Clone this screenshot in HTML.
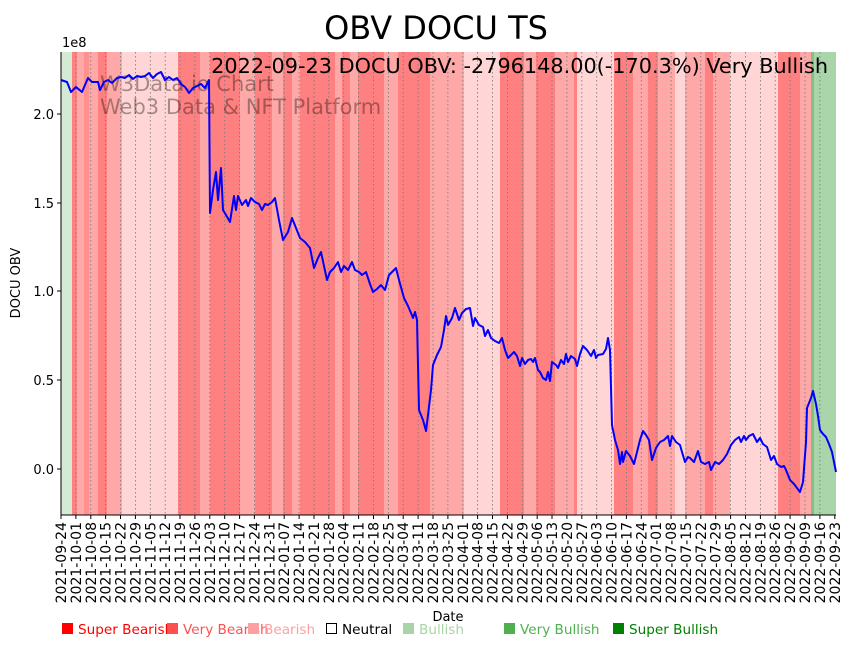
<!DOCTYPE html>
<html><head><meta charset="utf-8"><style>
body{margin:0;background:#fff}
svg{display:block;font-family:"DejaVu Sans","Liberation Sans",sans-serif}
</style></head><body>
<svg width="853" height="646" viewBox="0 0 853 646">
<rect width="853" height="646" fill="#fff"/>
<g>
<rect x="61" y="52" width="11" height="463" fill="#d5ead5"/>
<rect x="72" y="52" width="5" height="463" fill="#ff8080"/>
<rect x="77" y="52" width="21" height="463" fill="#ffa8a8"/>
<rect x="84" y="52" width="5" height="463" fill="#ff9090"/>
<rect x="98" y="52" width="9" height="463" fill="#ff8080"/>
<rect x="107" y="52" width="15" height="463" fill="#ffa8a8"/>
<rect x="122" y="52" width="56" height="463" fill="#ffd5d5"/>
<rect x="178" y="52" width="22" height="463" fill="#ff8080"/>
<rect x="200" y="52" width="10" height="463" fill="#ffa8a8"/>
<rect x="210" y="52" width="30" height="463" fill="#ff8080"/>
<rect x="240" y="52" width="15" height="463" fill="#ffa8a8"/>
<rect x="255" y="52" width="17" height="463" fill="#ff8080"/>
<rect x="272" y="52" width="11" height="463" fill="#ffa8a8"/>
<rect x="283" y="52" width="9" height="463" fill="#ff8080"/>
<rect x="292" y="52" width="8" height="463" fill="#ffa8a8"/>
<rect x="300" y="52" width="35" height="463" fill="#ff8080"/>
<rect x="335" y="52" width="7" height="463" fill="#ffa8a8"/>
<rect x="342" y="52" width="8" height="463" fill="#ff8080"/>
<rect x="350" y="52" width="8" height="463" fill="#ffa8a8"/>
<rect x="358" y="52" width="26" height="463" fill="#ff8080"/>
<rect x="384" y="52" width="14" height="463" fill="#ffa8a8"/>
<rect x="398" y="52" width="32" height="463" fill="#ff8080"/>
<rect x="430" y="52" width="34" height="463" fill="#ffa8a8"/>
<rect x="464" y="52" width="36" height="463" fill="#ffd5d5"/>
<rect x="500" y="52" width="24" height="463" fill="#ff8080"/>
<rect x="524" y="52" width="12" height="463" fill="#ffa8a8"/>
<rect x="536" y="52" width="19" height="463" fill="#ff8080"/>
<rect x="555" y="52" width="21" height="463" fill="#ffa8a8"/>
<rect x="574" y="52" width="3" height="463" fill="#ff8080"/>
<rect x="577" y="52" width="37" height="463" fill="#ffd5d5"/>
<rect x="614" y="52" width="19" height="463" fill="#ff8080"/>
<rect x="633" y="52" width="15" height="463" fill="#ffa8a8"/>
<rect x="648" y="52" width="10" height="463" fill="#ff8080"/>
<rect x="658" y="52" width="17" height="463" fill="#ffa8a8"/>
<rect x="675" y="52" width="10" height="463" fill="#ffd5d5"/>
<rect x="685" y="52" width="20" height="463" fill="#ffa8a8"/>
<rect x="705" y="52" width="8" height="463" fill="#ff8080"/>
<rect x="713" y="52" width="17" height="463" fill="#ffa8a8"/>
<rect x="730" y="52" width="48" height="463" fill="#ffd5d5"/>
<rect x="778" y="52" width="22" height="463" fill="#ff8080"/>
<rect x="800" y="52" width="11" height="463" fill="#ffa8a8"/>
<rect x="811" y="52" width="3" height="463" fill="#80c080"/>
<rect x="814" y="52" width="22" height="463" fill="#aad5aa"/>
</g>
<g stroke="#777" stroke-width="0.8" stroke-dasharray="1.5,2.5">
<path d="M75.9 52V515M90.8 52V515M105.6 52V515M120.5 52V515M135.4 52V515M150.3 52V515M165.2 52V515M180 52V515M194.9 52V515M209.8 52V515M224.7 52V515M239.6 52V515M254.4 52V515M269.3 52V515M284.2 52V515M299.1 52V515M314 52V515M328.8 52V515M343.7 52V515M358.6 52V515M373.5 52V515M388.4 52V515M403.2 52V515M418.1 52V515M433 52V515M447.9 52V515M462.8 52V515M477.6 52V515M492.5 52V515M507.4 52V515M522.3 52V515M537.2 52V515M552 52V515M566.9 52V515M581.8 52V515M596.7 52V515M611.6 52V515M626.4 52V515M641.3 52V515M656.2 52V515M671.1 52V515M686 52V515M700.8 52V515M715.7 52V515M730.6 52V515M745.5 52V515M760.4 52V515M775.2 52V515M790.1 52V515M805 52V515M819.9 52V515"/>
</g>
<g fill="#000" fill-opacity="0.35" font-size="21">
<text x="100" y="91">W3Data.io Chart</text>
<text x="100" y="114">Web3 Data &amp; NFT Platform</text>
</g>
<polyline fill="none" stroke="#0000ff" stroke-width="2" stroke-linejoin="round" points="61,80 67,82 71,92 76,87 82,92 88,78 92,82 98,82 100,90 104,82 108,80 112,83 117,78 121,77 125,78 129,75 133,79 137,76 141,77 145,76 149,73 153,78 157,74 161,72 165,80 169,77 173,80 177,78 181,84 185,87 189,93 193,88 197,86 201,84 205,88 207,84 209,80 210,213 213,190 216,172 218,200 221,168 223,210 226,215 230,222 234,196 236,210 238,196 242,205 246,200 248,206 251,198 255,202 259,204 262,210 265,204 268,205 272,202 275,198 279,220 283,240 288,232 292,218 296,228 300,238 305,242 310,248 314,268 318,258 321,252 324,266 327,280 330,272 334,268 338,262 341,272 344,266 348,270 352,262 355,270 359,272 362,275 366,272 370,284 373,292 377,289 381,285 385,290 389,275 396,268 399,280 404,298 408,306 411,313 413,318 415,312 417,320 419,410 423,420 426,431 428,415 431,390 433,365 437,355 441,347 444,330 446,316 448,325 452,318 455,308 459,320 462,313 466,309 470,308 473,326 475,318 479,325 483,327 485,336 488,330 491,338 495,341 499,343 502,338 505,350 508,358 514,352 517,356 520,366 522,358 525,364 528,360 531,359 533,362 535,358 538,370 540,372 543,378 546,380 548,372 550,381 552,362 556,365 558,368 561,360 564,364 566,354 568,362 571,356 575,359 577,366 580,354 583,346 587,350 591,356 594,350 596,358 598,355 603,354 606,349 608,338 610,350 612,425 615,440 618,450 620,464 622,452 623,462 626,451 630,456 634,464 640,440 643,431 646,435 649,440 652,460 656,448 660,442 664,440 668,436 670,446 672,436 676,442 680,445 682,452 685,462 688,457 690,458 694,462 698,451 701,462 705,464 709,462 711,470 715,462 719,464 723,460 727,454 731,445 735,440 739,437 741,442 744,436 746,440 749,436 753,434 757,442 760,438 763,444 767,447 771,460 774,456 777,464 781,467 784,466 786,470 790,480 794,484 800,492 803,482 806,442 807,408 811,398 813,391 816,404 818,416 820,430 823,434 826,437 829,444 832,452 836,472"/>
<path d="M61 52V515H836" fill="none" stroke="#000" stroke-width="1"/>
<g stroke="#000" stroke-width="1"><path d="M57 469H61M57 380H61M57 291H61M57 203H61M57 114H61"/>
<path d="M61 515v4M75.9 515v4M90.8 515v4M105.6 515v4M120.5 515v4M135.4 515v4M150.3 515v4M165.2 515v4M180 515v4M194.9 515v4M209.8 515v4M224.7 515v4M239.6 515v4M254.4 515v4M269.3 515v4M284.2 515v4M299.1 515v4M314 515v4M328.8 515v4M343.7 515v4M358.6 515v4M373.5 515v4M388.4 515v4M403.2 515v4M418.1 515v4M433 515v4M447.9 515v4M462.8 515v4M477.6 515v4M492.5 515v4M507.4 515v4M522.3 515v4M537.2 515v4M552 515v4M566.9 515v4M581.8 515v4M596.7 515v4M611.6 515v4M626.4 515v4M641.3 515v4M656.2 515v4M671.1 515v4M686 515v4M700.8 515v4M715.7 515v4M730.6 515v4M745.5 515v4M760.4 515v4M775.2 515v4M790.1 515v4M805 515v4M819.9 515v4M834.8 515v4"/></g>
<g font-size="13" text-anchor="end">
<text x="54" y="474">0.0</text><text x="54" y="385">0.5</text><text x="54" y="296">1.0</text><text x="54" y="208">1.5</text><text x="54" y="119">2.0</text>
</g>
<text x="62" y="47" font-size="13">1e8</text>
<text transform="translate(20,283) rotate(-90)" font-size="13" text-anchor="middle">DOCU OBV</text>
<text x="448" y="621" font-size="13" text-anchor="middle">Date</text>
<text x="436" y="39" font-size="32" text-anchor="middle">OBV DOCU TS</text>
<text x="828" y="73" font-size="20.8" text-anchor="end">2022-09-23 DOCU OBV: -2796148.00(-170.3%) Very Bullish</text>
<g font-size="14" text-anchor="end">
<text transform="translate(66,522) rotate(-90)">2021-09-24</text>
<text transform="translate(80.9,522) rotate(-90)">2021-10-01</text>
<text transform="translate(95.8,522) rotate(-90)">2021-10-08</text>
<text transform="translate(110.6,522) rotate(-90)">2021-10-15</text>
<text transform="translate(125.5,522) rotate(-90)">2021-10-22</text>
<text transform="translate(140.4,522) rotate(-90)">2021-10-29</text>
<text transform="translate(155.3,522) rotate(-90)">2021-11-05</text>
<text transform="translate(170.2,522) rotate(-90)">2021-11-12</text>
<text transform="translate(185,522) rotate(-90)">2021-11-19</text>
<text transform="translate(199.9,522) rotate(-90)">2021-11-26</text>
<text transform="translate(214.8,522) rotate(-90)">2021-12-03</text>
<text transform="translate(229.7,522) rotate(-90)">2021-12-10</text>
<text transform="translate(244.6,522) rotate(-90)">2021-12-17</text>
<text transform="translate(259.4,522) rotate(-90)">2021-12-24</text>
<text transform="translate(274.3,522) rotate(-90)">2021-12-31</text>
<text transform="translate(289.2,522) rotate(-90)">2022-01-07</text>
<text transform="translate(304.1,522) rotate(-90)">2022-01-14</text>
<text transform="translate(319,522) rotate(-90)">2022-01-21</text>
<text transform="translate(333.8,522) rotate(-90)">2022-01-28</text>
<text transform="translate(348.7,522) rotate(-90)">2022-02-04</text>
<text transform="translate(363.6,522) rotate(-90)">2022-02-11</text>
<text transform="translate(378.5,522) rotate(-90)">2022-02-18</text>
<text transform="translate(393.4,522) rotate(-90)">2022-02-25</text>
<text transform="translate(408.2,522) rotate(-90)">2022-03-04</text>
<text transform="translate(423.1,522) rotate(-90)">2022-03-11</text>
<text transform="translate(438,522) rotate(-90)">2022-03-18</text>
<text transform="translate(452.9,522) rotate(-90)">2022-03-25</text>
<text transform="translate(467.8,522) rotate(-90)">2022-04-01</text>
<text transform="translate(482.6,522) rotate(-90)">2022-04-08</text>
<text transform="translate(497.5,522) rotate(-90)">2022-04-15</text>
<text transform="translate(512.4,522) rotate(-90)">2022-04-22</text>
<text transform="translate(527.3,522) rotate(-90)">2022-04-29</text>
<text transform="translate(542.2,522) rotate(-90)">2022-05-06</text>
<text transform="translate(557,522) rotate(-90)">2022-05-13</text>
<text transform="translate(571.9,522) rotate(-90)">2022-05-20</text>
<text transform="translate(586.8,522) rotate(-90)">2022-05-27</text>
<text transform="translate(601.7,522) rotate(-90)">2022-06-03</text>
<text transform="translate(616.6,522) rotate(-90)">2022-06-10</text>
<text transform="translate(631.4,522) rotate(-90)">2022-06-17</text>
<text transform="translate(646.3,522) rotate(-90)">2022-06-24</text>
<text transform="translate(661.2,522) rotate(-90)">2022-07-01</text>
<text transform="translate(676.1,522) rotate(-90)">2022-07-08</text>
<text transform="translate(691,522) rotate(-90)">2022-07-15</text>
<text transform="translate(705.8,522) rotate(-90)">2022-07-22</text>
<text transform="translate(720.7,522) rotate(-90)">2022-07-29</text>
<text transform="translate(735.6,522) rotate(-90)">2022-08-05</text>
<text transform="translate(750.5,522) rotate(-90)">2022-08-12</text>
<text transform="translate(765.4,522) rotate(-90)">2022-08-19</text>
<text transform="translate(780.2,522) rotate(-90)">2022-08-26</text>
<text transform="translate(795.1,522) rotate(-90)">2022-09-02</text>
<text transform="translate(810,522) rotate(-90)">2022-09-09</text>
<text transform="translate(824.9,522) rotate(-90)">2022-09-16</text>
<text transform="translate(839.8,522) rotate(-90)">2022-09-23</text>
</g>
<g font-size="13.6">
<rect x="62" y="623" width="11" height="11" fill="#ff0000"/><text x="78" y="634" fill="#ff0000">Super Bearish</text>
<rect x="167" y="623" width="11" height="11" fill="#ff5050"/><text x="183" y="634" fill="#ff5050">Very Bearish</text>
<rect x="248" y="623" width="11" height="11" fill="#ffa0a0"/><text x="264" y="634" fill="#ffa0a0">Bearish</text>
<rect x="326.5" y="623.5" width="10" height="10" fill="none" stroke="#000"/><text x="342" y="634" fill="#000">Neutral</text>
<rect x="403" y="623" width="11" height="11" fill="#a8d4a8"/><text x="419" y="634" fill="#a8d4a8">Bullish</text>
<rect x="504" y="623" width="11" height="11" fill="#50b050"/><text x="520" y="634" fill="#50b050">Very Bullish</text>
<rect x="613" y="623" width="11" height="11" fill="#008000"/><text x="629" y="634" fill="#008000">Super Bullish</text>
</g>
</svg>
</body></html>
